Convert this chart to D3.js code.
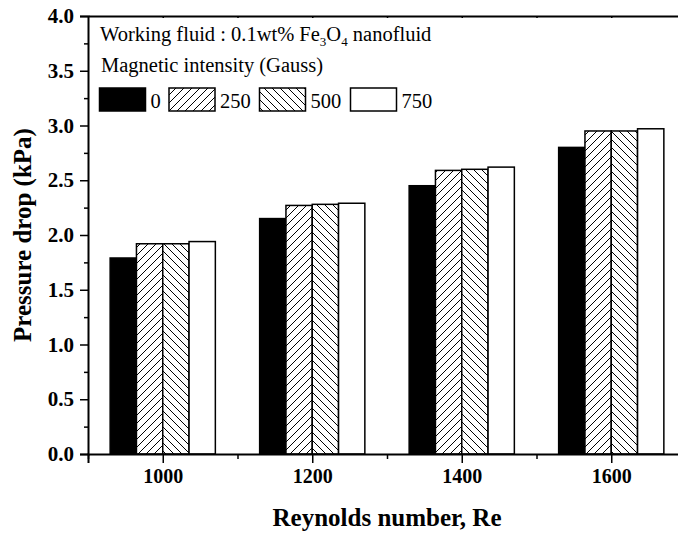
<!DOCTYPE html>
<html>
<head>
<meta charset="utf-8">
<script src="https://cdn.jsdelivr.net/npm/d3@7"></script>
<style>
  html, body { margin: 0; padding: 0; background: #fff; }
  svg { display: block; font-family: "Liberation Serif", "Times New Roman", serif; }
</style>
</head>
<body>
<svg id="chart"></svg>
<script>
// Reynolds numbers on the x axis
const reynolds = [1000, 1200, 1400, 1600];
// Magnetic intensity groups (Gauss)
const gauss = ['0', '250', '500', '750'];
// Pressure drop (kPa) per intensity
const drop0 = [1.79, 2.15, 2.45, 2.80];
const drop250 = [1.92, 2.27, 2.59, 2.95];
const drop500 = [1.92, 2.28, 2.60, 2.95];
const drop750 = [1.94, 2.29, 2.62, 2.97];
// axis ticks
const yTicks = [0, 0.5, 1.0, 1.5, 2.0, 2.5, 3.0, 3.5, 4.0];
const xTicks = [1000, 1200, 1400, 1600];

const seriesValues = [drop0, drop250, drop500, drop750];
const fills = ['#000', 'url(#hatchFwd)', 'url(#hatchBack)', '#fff'];

const width = 678;
const height = 537;
const margin = { top: 16, right: -8, bottom: 83, left: 88 };
const serif = 'Liberation Serif, Times New Roman, serif';

const svg = d3.select('#chart')
  .attr('width', width)
  .attr('height', height)
  .attr('viewBox', `0 0 ${width} ${height}`);

// hatch patterns
const defs = svg.append('defs');
const addHatch = (id, d) => {
  const p = defs.append('pattern')
    .attr('id', id)
    .attr('patternUnits', 'userSpaceOnUse')
    .attr('width', 8)
    .attr('height', 8);
  p.append('rect').attr('width', 8).attr('height', 8).attr('fill', '#fff');
  p.append('path')
    .attr('d', d)
    .attr('stroke', '#000')
    .attr('stroke-width', 1)
    .attr('fill', 'none');
};
addHatch('hatchFwd', 'M0,8 L8,0 M-2,2 L2,-2 M6,10 L10,6');
addHatch('hatchBack', 'M0,0 L8,8 M-2,6 L2,10 M6,-2 L10,2');

// scales
const x = d3.scaleLinear()
  .domain([900, 1700])
  .range([margin.left, width - margin.right]);

const y = d3.scaleLinear()
  .domain([0, 4])
  .range([height - margin.bottom, margin.top]);

const barW = 26.3;
const offset = d3.scaleBand()
  .domain(gauss)
  .range([-2 * barW, 2 * barW])
  .padding(0);

// bars
gauss.forEach((g, si) => {
  svg.append('g')
    .selectAll('rect')
    .data(reynolds.map((re, i) => ({ re, v: seriesValues[si][i] })))
    .join('rect')
    .attr('x', d => x(d.re) + offset(g))
    .attr('y', d => y(d.v))
    .attr('width', offset.bandwidth())
    .attr('height', d => y(0) - y(d.v))
    .attr('fill', fills[si])
    .attr('stroke', '#000')
    .attr('stroke-width', 1.5);
});

// axes
const y0 = y(0);
const fontTick = '20px';

const bottom = svg.append('g')
  .attr('transform', `translate(0,${y0})`)
  .call(d3.axisBottom(x)
    .tickValues(xTicks)
    .tickSize(9)
    .tickPadding(6)
    .tickFormat(d3.format('d')));
bottom.selectAll('text').attr('font-size', fontTick).attr('font-weight', 'bold')
  .attr('font-family', serif).attr('fill', '#000');

// minor x ticks
svg.append('g')
  .attr('transform', `translate(0,${y0})`)
  .call(d3.axisBottom(x).tickValues([900, 1100, 1300, 1500, 1700]).tickSize(5).tickFormat(''))
  .call(g => g.select('.domain').remove());

const left = svg.append('g')
  .attr('transform', `translate(${margin.left},0)`)
  .call(d3.axisLeft(y)
    .tickValues(yTicks)
    .tickSize(8)
    .tickPadding(6)
    .tickFormat(d3.format('.1f')));
left.selectAll('text').attr('font-size', '21px').attr('font-weight', 'bold')
  .attr('font-family', serif).attr('fill', '#000');

// minor y ticks
svg.append('g')
  .attr('transform', `translate(${margin.left},0)`)
  .call(d3.axisLeft(y).tickValues(d3.range(0.25, 4, 0.5)).tickSize(4).tickFormat(''))
  .call(g => g.select('.domain').remove());

// top frame with small inward ticks
svg.append('g')
  .attr('transform', `translate(0,${margin.top})`)
  .call(d3.axisBottom(x).tickValues([1000, 1100, 1200, 1300, 1400, 1500, 1600]).tickSize(2).tickSizeOuter(0).tickFormat(''));

svg.selectAll('.domain').attr('stroke-width', 2);
svg.selectAll('.tick line').attr('stroke-width', 1.5);

// axis titles
svg.append('text')
  .attr('x', 387)
  .attr('y', 526)
  .attr('text-anchor', 'middle')
  .attr('font-size', '25px')
  .attr('font-weight', 'bold')
  .text('Reynolds number, Re');

svg.append('text')
  .attr('transform', `translate(31,${(y(0) + y(4)) / 2}) rotate(-90)`)
  .attr('text-anchor', 'middle')
  .attr('font-size', '25px')
  .attr('font-weight', 'bold')
  .text('Pressure drop (kPa)');

// legend
const legendFont = '20.5px';
const legend = svg.append('g');
const t1 = legend.append('text')
  .attr('x', 100)
  .attr('y', 41)
  .attr('font-size', legendFont);
t1.append('tspan').text('Working fluid : 0.1wt% Fe');
t1.append('tspan').attr('font-size', '13px').attr('dy', 5).text('3');
t1.append('tspan').attr('dy', -5).text('O');
t1.append('tspan').attr('font-size', '13px').attr('dy', 5).text('4');
t1.append('tspan').attr('dy', -5).text(' nanofluid');

legend.append('text')
  .attr('x', 101)
  .attr('y', 72)
  .attr('font-size', legendFont)
  .text('Magnetic intensity (Gauss)');

const legendX = [99.5, 169, 259.5, 350.5];
gauss.forEach((g, si) => {
  legend.append('rect')
    .attr('x', legendX[si])
    .attr('y', 88)
    .attr('width', 46)
    .attr('height', 23)
    .attr('fill', fills[si])
    .attr('stroke', '#000')
    .attr('stroke-width', 1.5);
  legend.append('text')
    .attr('x', legendX[si] + 51)
    .attr('y', 108)
    .attr('font-size', legendFont)
    .text(g);
});
</script>
</body>
</html>
